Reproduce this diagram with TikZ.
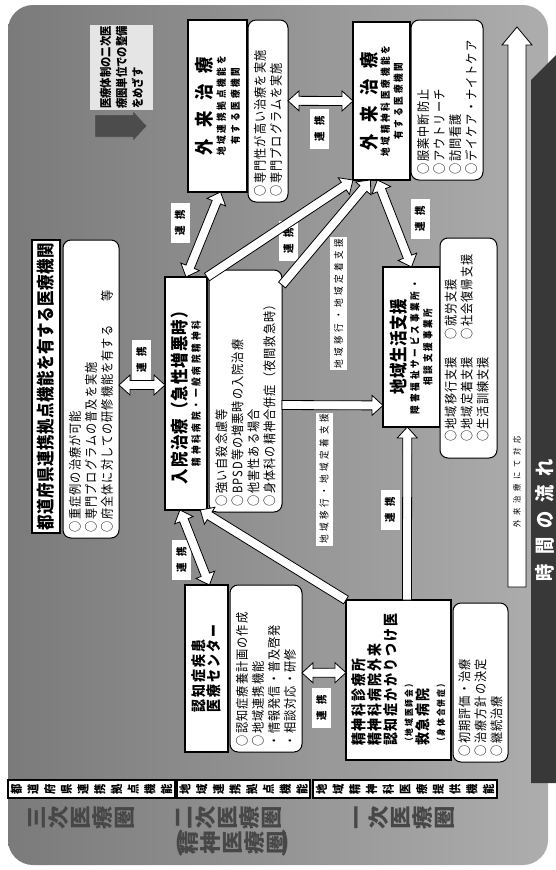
\documentclass[tikz,border=0pt]{standalone}
\usepackage{fontspec}
\setmainfont{Noto Sans CJK JP}[FakeStretch=0.86]
\usetikzlibrary{calc}

\newcommand\jpTitle{\bfseries\fontsize{18}{20}\selectfont\addfontfeature{LetterSpace=3}}
\newcommand\jpHead{\bfseries\fontsize{18}{20}\selectfont\addfontfeature{LetterSpace=6}}
\newcommand\jpWide{\bfseries\fontsize{19}{21}\selectfont\addfontfeature{LetterSpace=58}}
\newcommand\jpSub{\bfseries\fontsize{10}{12}\selectfont\addfontfeature{LetterSpace=28}}
\newcommand\jpMid{\bfseries\fontsize{15}{17}\selectfont\addfontfeature{LetterSpace=13}}
\newcommand\jpNote{\bfseries\fontsize{9}{11}\selectfont\addfontfeature{LetterSpace=22}}
\newcommand\jpList{\fontsize{13}{16}\selectfont\addfontfeature{LetterSpace=8}}
\newcommand\jpPolicy{\bfseries\fontsize{12}{16}\selectfont}
\newcommand\vparen[1]{\rotatebox[origin=c]{-90}{#1}}

\begin{document}
\begin{tikzpicture}[
    x = 1pt, y = 1pt,
    every node/.style = {inner sep=1pt, outer sep=0pt},
    headbox/.style    = {draw, fill=white, line width=1.1pt, align=center},
    listbox/.style    = {draw, fill=white, line width=1pt, rounded corners=8pt, align=left},
    rowbox/.style     = {draw, fill=white, line width=1.2pt, align=center, minimum width=18pt,
                         font={\bfseries\fontsize{12}{16.7}\selectfont}},
    zone/.style       = {align=center, text=black!72, xscale=1.3,
                         font={\bfseries\fontsize{21}{22}\selectfont}},
    linktag/.style    = {fill=white, minimum width=40pt, minimum height=19pt,
                         font={\bfseries\fontsize{11}{12}\selectfont\addfontfeature{LetterSpace=60}}},
    movetag/.style    = {fill=white, minimum width=133pt, minimum height=17pt,
                         font={\fontsize{10}{12}\selectfont\addfontfeature{LetterSpace=35}}},
    link/.style = {draw=black, fill=white, line width=0.8pt, line join=miter,
      to path = {let \p1=(\tikztostart), \p2=(\tikztotarget), \n1={atan2(\y2-\y1,\x2-\x1)} in
        ($(\p1)+(\n1+90:4.5pt)$) -- ($(\p2)+(\n1:-11pt)+(\n1+90:4.5pt)$)
        -- ($(\p2)+(\n1:-11pt)+(\n1+90:10pt)$) -- (\p2)
        -- ($(\p2)+(\n1:-11pt)+(\n1-90:10pt)$) -- ($(\p2)+(\n1:-11pt)+(\n1-90:4.5pt)$)
        -- ($(\p1)+(\n1-90:4.5pt)$) -- cycle}},
    dlink/.style = {draw=black, fill=white, line width=0.8pt, line join=miter,
      to path = {let \p1=(\tikztostart), \p2=(\tikztotarget), \n1={atan2(\y2-\y1,\x2-\x1)} in
        (\p1) -- ($(\p1)+(\n1:11pt)+(\n1+90:10pt)$) -- ($(\p1)+(\n1:11pt)+(\n1+90:4.5pt)$)
        -- ($(\p2)+(\n1:-11pt)+(\n1+90:4.5pt)$) -- ($(\p2)+(\n1:-11pt)+(\n1+90:10pt)$)
        -- (\p2)
        -- ($(\p2)+(\n1:-11pt)+(\n1-90:10pt)$) -- ($(\p2)+(\n1:-11pt)+(\n1-90:4.5pt)$)
        -- ($(\p1)+(\n1:11pt)+(\n1-90:4.5pt)$) -- ($(\p1)+(\n1:11pt)+(\n1-90:10pt)$) -- cycle}},
  ]
\useasboundingbox (0,0) rectangle (556,-870);
\shade[rounded corners=25pt, left color=black!52, right color=black!32] (8,-5) rectangle (548,-865);

% the chart is laid out lying on its side
\begin{scope}[shift={(556,-870)}, rotate=90, transform shape]
  % time flow and outpatient arrow
  \fill[black!78] (87,-30) -- (87,25) -- (790,25) -- (845,-30) -- cycle;
  \node[text=white, font={\bfseries\fontsize{20}{22}\selectfont\addfontfeature{LetterSpace=45}}] (timeFlow) at (350,11) {時間の流れ};
  \draw[fill=white, line width=0.8pt] (283,30) -- (825,30) -- (825,24) -- (843,39) -- (825,54) -- (825,48) -- (283,48) -- cycle;
  \node[font={\fontsize{8.5}{10}\selectfont\addfontfeature{LetterSpace=55}}] (outCare) at (388,39) {外来治療にて対応};

  % row labels
  \node[rowbox, minimum height=167pt] (rowPref) at (81,464.5) {都\\道\\府\\県\\連\\携\\拠\\点\\機\\能};
  \node[rowbox, minimum height=133pt] (rowArea) at (81,312.5) {地\\域\\連\\携\\拠\\点\\機\\能};
  \node[rowbox, minimum height=184pt] (rowLocal) at (81,151) {地\\域\\精\\神\\科\\医\\療\\提\\供\\機\\能};
  \node[zone] (zoneThree) at (52,474) {三\\次\\医\\療\\圏};
  \node[zone] (zoneTwo) at (52,327.5) {二\\次\\医\\療\\圏};
  \node[zone] (zoneTwoSub) at (27,323.5) {\vparen{（}\\[-8pt]精\\神\\医\\療\\圏\\[-8pt]\vparen{）}};
  \node[zone] (zoneOne) at (52,151) {一\\次\\医\\療\\圏};

  % prefecture level
  \node[headbox, minimum width=293pt, minimum height=28pt, font=\jpTitle] (pref) at (483.5,510) {都道府県連携拠点機能を有する医療機関};
  \node[listbox, minimum width=298pt, minimum height=56pt, text width=286pt, font=\jpList] (prefList) at (481,465)
    {○重症例の治療が可能\\○専門プログラムの普及を実施\\○府全体に対しての研修機能を有する\hspace{24pt}等};

  % ward
  \node[headbox, minimum width=233pt, minimum height=42pt, font={\fontsize{10}{13}\selectfont}] (nyuin) at (476.5,370)
    {{\jpHead 入院治療（急性増悪時）}\\{\jpSub 精神科病院・一般病院精神科}};
  \node[listbox, minimum width=242pt, minimum height=73pt, text width=230pt, font=\jpList] (nyuinList) at (479,310.5)
    {○強い自殺念慮等\\○BPSD等の増悪時の入院治療\\○他害性ある場合\\○身体科の精神合併症（夜間救急時）};

  % outpatient
  \node[headbox, minimum width=172pt, minimum height=59pt, font={\fontsize{10}{14}\selectfont}] (gairai1) at (764,338.5)
    {{\jpWide 外来治療}\\{\jpSub 地域連携拠点機能を}\\{\jpSub 有する医療機関}};
  \node[listbox, minimum width=182pt, minimum height=40pt, text width=170pt, font=\jpList] (gairai1List) at (759,288)
    {○専門性が高い治療を実施\\○専門プログラムを実施};
  \node[fill=black!10, minimum width=85pt, minimum height=63pt, align=left, font=\jpPolicy] (policy) at (802.5,434.5)
    {医療体制の二次医\\療圏単位での整備\\をめざす};
  \fill[black!70, draw=black!45] (733,461) -- (733,423) -- (729,423) -- (744,409) -- (759,423) -- (755,423) -- (755,461) -- cycle;
  \node[headbox, minimum width=158pt, minimum height=57pt, font={\fontsize{10}{13}\selectfont}] (gairai2) at (769,174.5)
    {{\jpWide 外来治療}\\{\jpSub 地域精神科医療機能を}\\{\jpSub 有する医療機関}};
  \node[listbox, minimum width=160pt, minimum height=72pt, text width=148pt, font=\jpList] (gairai2List) at (770,109)
    {○服薬中断防止\\○アウトリーチ\\○訪問看護\\○デイケア・ナイトケア};

  % community life
  \node[headbox, minimum width=160pt, minimum height=57pt, font={\fontsize{10}{13}\selectfont}] (chiiki) at (523,144.5)
    {{\jpTitle 地域生活支援}\\{\jpSub 障害福祉サービス事業所・}\\{\jpSub 相談支援事業所}};
  \node[listbox, minimum width=220pt, minimum height=57pt, font=\jpList] (chiikiList) at (522,87.5)
    {\begin{tabular}{@{}l@{\hspace{18pt}}l@{}}○地域移行支援 & ○就労支援\\○地域定着支援 & ○社会復帰支援\\○生活訓練支援 & \end{tabular}};

  % dementia centre and clinics
  \node[headbox, minimum width=167pt, minimum height=43pt, align=left, font={\fontsize{10}{15}\selectfont}] (ninchi) at (201.5,349.5)
    {{\jpMid 認知症疾患}\\{\jpMid 医療センター}};
  \node[listbox, minimum width=167pt, minimum height=72pt, text width=155pt, font=\jpList] (ninchiList) at (201.5,290)
    {○認知症療養計画の作成\\○地域連携機能\\・情報発信・普及啓発\\・相談対応・研修};
  \node[headbox, line width=1.5pt, minimum width=160pt, minimum height=105pt, align=left, font={\fontsize{10}{16}\selectfont}] (seishin) at (190,157.5)
    {{\jpMid 精神科診療所}\\{\jpMid 精神科病院外来}\\{\jpMid 認知症かかりつけ医}\\{\jpNote （地域医師会）}\\{\jpMid 救急病院}\\{\jpNote （身体合併症）}};
  \node[listbox, minimum width=159pt, minimum height=55pt, text width=147pt, font=\jpList] (seishinList) at (187.5,75.5)
    {○初期評価・治療\\○治療方針の決定\\○継続治療};

  % tags beside the arrows
  \node[linktag] (tagPref) at (510,414.5) {連携};
  \node[linktag] (tagOut) at (647,376) {連携};
  \node[linktag] (tagWard) at (629,267.5) {連携};
  \node[linktag] (tagLife) at (651.5,136) {連携};
  \node[linktag] (tagClinic) at (741.5,236.5) {連携};
  \node[linktag] (tagCenter) at (162.5,234.5) {連携};
  \node[linktag] (tagDementia) at (310,374.5) {連携};
  \node[linktag] (tagLocal) at (360,166) {連携};
  \node[movetag] (moveOut) at (566.5,217.5) {地域移行・地域定着支援};
  \node[movetag] (moveLife) at (391,232) {地域移行・地域定着支援};
\end{scope}

% connectors
\draw[dlink] (nyuin.68) to (prefList.278);
\draw[dlink] (nyuin.0) to (gairai1.182);
\draw[link] (nyuin.south east) to (gairai2.north west);
\draw[link] (nyuinList.341) to (gairai2.172);
\draw[link] (nyuinList.249) to (chiiki.154);
\draw[link] (seishin.354) to (chiiki.177);
\draw[dlink] (chiiki.0) to (gairai2.177);
\draw[dlink] (gairai1List.297) to (gairai2.90);
\draw[dlink] (ninchiList.263) to (seishin.82);
\draw[dlink] (nyuin.177) to (ninchi.358);
\draw[link] (seishin.north east) to (nyuin.187);
\end{tikzpicture}
\end{document}
